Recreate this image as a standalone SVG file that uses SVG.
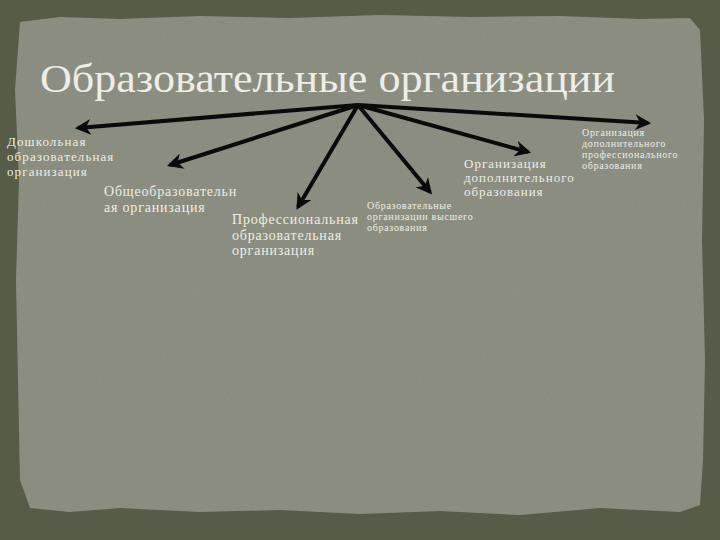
<svg xmlns="http://www.w3.org/2000/svg" width="720" height="540" viewBox="0 0 720 540">
<defs>
<style>
.t{font-family:"Liberation Serif","DejaVu Serif",serif;fill:#eeeee6}
.s13{font-size:13px;letter-spacing:1.1px}
.s14{font-size:14px;letter-spacing:0.8px}
.s13b{font-size:13px;letter-spacing:1px}
.s10{font-size:10px;letter-spacing:0.7px}
.arr{stroke:#0a0a0a;stroke-width:4;fill:none;marker-end:url(#ah)}
</style>
<marker id="ah" viewBox="0 0 10 10" refX="8" refY="5" markerWidth="4" markerHeight="4" orient="auto" markerUnits="strokeWidth">
<path d="M0,0 L10,5 L0,10 L3,5 Z" fill="#0a0a0a"/>
</marker>
<filter id="tex" x="0" y="0" width="100%" height="100%">
<feTurbulence type="fractalNoise" baseFrequency="0.8" numOctaves="2" seed="3" result="n"/>
<feColorMatrix in="n" type="matrix" values="0 0 0 0 0.5  0 0 0 0 0.5  0 0 0 0 0.45  0 0 0 0.12 0" result="c"/>
<feComposite in="c" in2="SourceGraphic" operator="in" result="m"/>
<feMerge><feMergeNode in="SourceGraphic"/><feMergeNode in="m"/></feMerge>
</filter>
</defs>
<g id="background">
<rect width="720" height="540" fill="#575c49"/>
<path filter="url(#tex)" fill="#878a7c" d="M20,22 L60,17 L120,19 L200,16 L290,18 L380,15 L470,17 L560,16 L640,19 L690,18 L700,30 L704,120 L702,240 L705,360 L703,460 L700,505 L680,512 L600,508 L520,515 L440,511 L360,514 L280,510 L200,512 L120,508 L70,512 L30,508 L20,480 L18,380 L16,280 L19,180 L15,90 Z"/>
</g>
<g id="title"><text class="t" x="40" y="92" font-size="40" textLength="575" lengthAdjust="spacingAndGlyphs">Образовательные организации</text></g>
<g id="connectors">
<line class="arr" x1="358" y1="105" x2="78" y2="128"/>
<line class="arr" x1="358" y1="105" x2="170" y2="165"/>
<line class="arr" x1="358" y1="105" x2="298" y2="207"/>
<line class="arr" x1="358" y1="105" x2="430" y2="192"/>
<line class="arr" x1="358" y1="105" x2="528" y2="152"/>
<line class="arr" x1="358" y1="105" x2="648" y2="123"/>
</g>
<g id="node-preschool"><text class="t s13" x="7" y="146">Дошкольная<tspan x="7" y="161">образовательная</tspan><tspan x="7" y="176">организация</tspan></text></g>
<g id="node-general"><text class="t s14" x="104" y="196">Общеобразовательн<tspan x="104" y="212">ая организация</tspan></text></g>
<g id="node-professional"><text class="t s14" x="232" y="224">Профессиональная<tspan x="232" y="240">образовательная</tspan><tspan x="232" y="255">организация</tspan></text></g>
<g id="node-higher"><text class="t s10" x="367" y="209">Образовательные<tspan x="367" y="220">организации высшего</tspan><tspan x="367" y="231">образования</tspan></text></g>
<g id="node-additional"><text class="t s13b" x="464" y="168">Организация<tspan x="464" y="182">дополнительного</tspan><tspan x="464" y="196">образования</tspan></text></g>
<g id="node-additional-prof"><text class="t s10" x="582" y="136">Организация<tspan x="582" y="147">дополнительного</tspan><tspan x="582" y="158">профессионального</tspan><tspan x="582" y="169">образования</tspan></text></g>
</svg>
